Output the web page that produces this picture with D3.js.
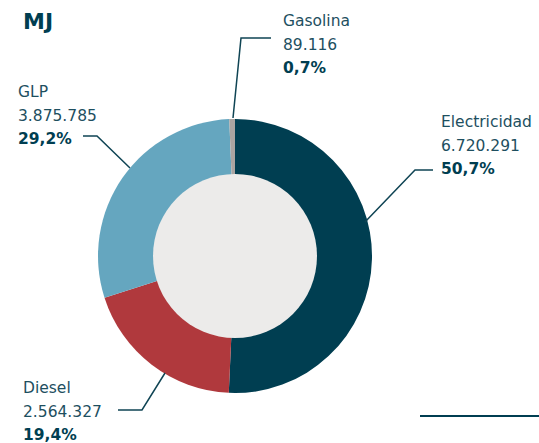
<!DOCTYPE html>
<html><head><meta charset="utf-8">
<script src="https://cdn.jsdelivr.net/npm/d3@7"></script>
<style>
html,body{margin:0;padding:0;background:#fff;}
svg{display:block;}
text{font-family:"DejaVu Sans",sans-serif;}
</style></head>
<body>
<svg id="chart" width="539" height="443"></svg>
<script>
const categories = ["Electricidad", "Diesel", "GLP", "Gasolina"];
const values = [6720291, 2564327, 3875785, 89116];
const valueLabels = ["6.720.291", "2.564.327", "3.875.785", "89.116"];
const percentLabels = ["50,7%", "19,4%", "29,2%", "0,7%"];
const colors = ["#003e51", "#b0393d", "#65a6bf", "#aaa4a1"];

const svg = d3.select("#chart");
const cx = 235, cy = 256, rOuter = 137, rInner = 82;
const ink = "#0f4454";

svg.append("text").attr("x", 23).attr("y", 29)
  .attr("font-size", 22).attr("font-weight", "bold").attr("fill", "#003e51")
  .text("MJ");

const pie = d3.pie().sort(null).value(d => d)(values);
const arc = d3.arc().innerRadius(0).outerRadius(rOuter);
const g = svg.append("g").attr("transform", `translate(${cx},${cy})`);
g.selectAll("path").data(pie).join("path")
  .attr("d", arc).attr("fill", (d, i) => colors[i]);
g.append("circle").attr("r", rInner).attr("fill", "#ecebea");

// label layout (positions only)
const layout = [
  {x: 441, y: 127, anchor: "start", line: [[365, 222], [415, 170], [433, 170]]},
  {x: 23, y: 393, anchor: "start", line: [[165, 373], [142, 410], [118, 410]]},
  {x: 18, y: 97, anchor: "start", line: [[130, 168], [97, 136], [83, 136]]},
  {x: 283, y: 26, anchor: "start", line: [[233, 118], [241, 38], [271, 38]]}
];

categories.forEach((c, i) => {
  const L = layout[i];
  svg.append("path")
    .attr("d", d3.line()(L.line))
    .attr("fill", "none").attr("stroke", ink).attr("stroke-width", 1.5);
  const t = svg.append("text").attr("x", L.x).attr("y", L.y)
    .attr("font-size", 15.5).attr("fill", "#1e4f5f").attr("text-anchor", L.anchor);
  t.append("tspan").attr("x", L.x).attr("dy", 0).text(c);
  t.append("tspan").attr("x", L.x).attr("dy", 23.5).text(valueLabels[i]);
  t.append("tspan").attr("x", L.x).attr("dy", 23)
    .attr("font-weight", "bold").attr("fill", "#003e51").text(percentLabels[i]);
});

svg.append("line").attr("x1", 420).attr("x2", 539).attr("y1", 416).attr("y2", 416)
  .attr("stroke", "#003e51").attr("stroke-width", 2.2);
</script>
</body></html>
